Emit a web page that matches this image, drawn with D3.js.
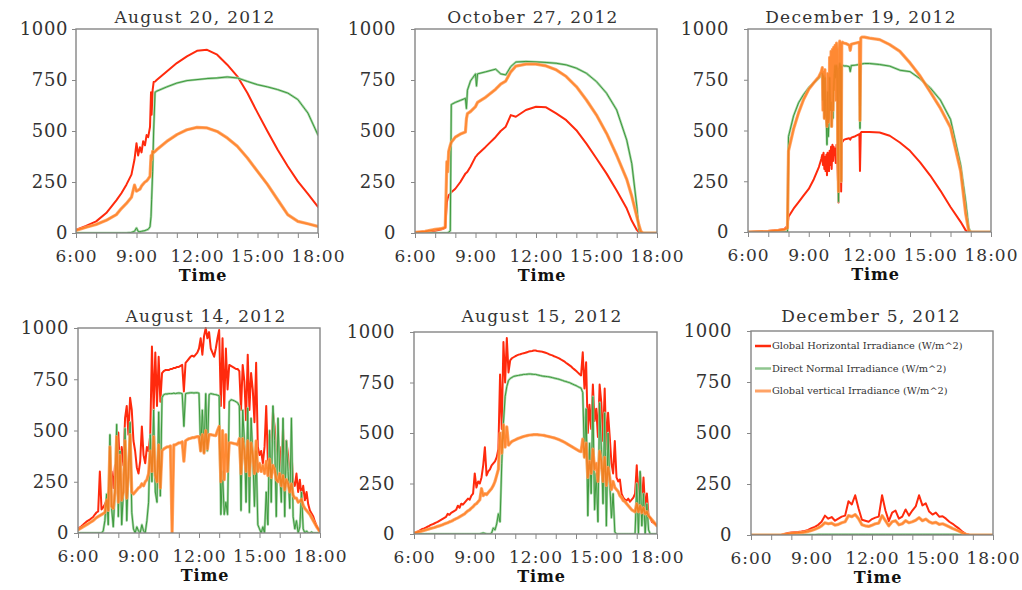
<!DOCTYPE html>
<html><head><meta charset="utf-8">
<script src="https://cdn.jsdelivr.net/npm/d3@7"></script>
<style>
html,body{margin:0;padding:0;background:#fff;}
svg{display:block;}
</style></head>
<body>
<svg id="chart" width="1022" height="590"></svg>
<script>
// ================= DATA =================
const tickHours = [6, 9, 12, 15, 18];
const tickLabels = ["6:00", "9:00", "12:00", "15:00", "18:00"];
const yTickValues = [0, 250, 500, 750, 1000];
const axisTitle = "Time";
const seriesNames = [
  "Global Horizontal Irradiance (W/m^2)",
  "Direct Normal Irradiance (W/m^2)",
  "Global vertical Irradiance (W/m^2)"
];
const panelTitles = ["August 20, 2012", "October 27, 2012", "December 19, 2012",
                     "August 14, 2012", "August 15, 2012", "December 5, 2012"];

// --- August 20, 2012 (time in hours) ---
const aug20Time = [6, 6.5, 7, 7.5, 8, 8.25, 8.5, 8.75, 8.9, 9, 9.08, 9.17, 9.25, 9.33, 9.42, 9.5, 9.58, 9.67, 9.72, 9.75,
  9.8, 9.85, 9.92, 10, 10.5, 11, 11.5, 12, 12.5, 13, 13.5, 14, 14.5, 15, 15.5, 16, 16.5, 17, 17.5, 18];
const aug20GHI = [15, 35, 57, 98, 160, 195, 237, 286, 360, 440, 380, 420, 395, 450, 430, 480, 470, 520, 690, 580,
  700, 740, 742, 750, 792, 833, 866, 893, 898, 874, 825, 768, 686, 590, 498, 408, 327, 253, 192, 128];
const aug20DNI = [0, 0, 0, 0, 0, 0, 0, 3, 8, 25, 8, 6, 8, 10, 12, 15, 18, 30, 80, 163,
  300, 500, 690, 695, 716, 735, 747, 752, 757, 760, 765, 760, 743, 727, 716, 703, 686, 654, 588, 480];
const aug20GVI = [13, 28, 42, 62, 90, 120, 145, 175, 235, 205, 210, 215, 230, 240, 250, 255, 265, 278, 380, 360,
  400, 395, 400, 408, 449, 482, 506, 518, 515, 498, 466, 425, 368, 302, 237, 163, 90, 57, 45, 32];

// --- October 27, 2012 ---
const oct27Time = [6, 6.5, 7, 7.33, 7.5, 7.58, 7.62, 7.67, 7.75, 7.8, 8, 8.25, 8.5, 8.55, 8.6, 8.75, 9, 9.05, 9.1, 9.5,
  10, 10.25, 10.5, 10.75, 11, 11.5, 12, 12.5, 13, 13.5, 14, 14.5, 15, 15.5, 16, 16.5, 16.75, 17, 17.1, 17.2, 17.3, 17.5, 18];
const oct27GHI = [3, 6, 11, 18, 25, 150, 170, 185, 192, 200, 217, 250, 291, 295, 300, 325, 373, 378, 385, 422,
  471, 500, 521, 578, 570, 603, 619, 616, 586, 553, 504, 438, 365, 291, 208, 120, 60, 15, 4, 0, 0, 0, 0];
const oct27DNI = [0, 0, 0, 0, 0, 0, 0, 5, 10, 630, 640, 650, 660, 610, 700, 745, 780, 720, 780, 790,
  803, 780, 775, 816, 838, 841, 839, 836, 832, 824, 808, 783, 742, 685, 603, 455, 340, 130, 15, 0, 0, 0, 0];
const oct27GVI = [3, 8, 18, 22, 28, 350, 300, 400, 430, 445, 470, 485, 495, 560, 585, 595, 620, 630, 640, 665,
  705, 730, 745, 790, 818, 828, 828, 819, 800, 767, 718, 652, 578, 488, 381, 263, 180, 80, 40, 8, 0, 0, 0];

// --- December 19, 2012 ---
const dec19Time = [6, 7, 7.5, 7.8, 7.95, 8, 8.25, 8.5, 8.75, 9, 9.25, 9.5, 9.62,
  9.67, 9.7, 9.73, 9.77, 9.8, 9.83, 9.87, 9.9, 9.93, 9.97, 10, 10.03, 10.07, 10.1, 10.13, 10.17, 10.2, 10.23, 10.27, 10.3,
  10.33, 10.37, 10.4, 10.43, 10.47, 10.5, 10.53, 10.57, 10.6, 10.63, 10.67, 10.7, 10.75,
  10.85, 11, 11.05, 11.1, 11.3, 11.5, 11.53, 11.57, 11.62, 11.75, 12, 12.5, 13, 13.5, 14, 14.5, 15, 15.5, 16, 16.5, 16.75, 16.9, 17, 17.5, 18];
const dec19GHI = [0, 5, 10, 15, 30, 75, 115, 147, 180, 212, 260, 320, 360,
  380, 330, 390, 310, 370, 300, 380, 280, 390, 320, 300, 400, 330, 420, 310, 430, 350, 420, 380, 410,
  340, 430, 400, 300, 145, 420, 440, 430, 200, 440, 445, 450, 455,
  458, 462, 455, 465, 472, 482, 300, 490, 493, 493, 493, 490, 474, 441, 400, 343, 278, 204, 123, 50, 8, 0, 0, 0, 0];
const dec19DNI = [0, 0, 0, 0, 0, 470, 572, 637, 678, 711, 735, 758, 772,
  780, 650, 770, 560, 760, 620, 540, 430, 690, 470, 560, 760, 600, 640, 520, 600, 560, 700, 780, 820,
  760, 820, 800, 500, 150, 800, 830, 820, 250, 815, 817, 820, 818,
  818, 815, 790, 820, 822, 825, 510, 825, 828, 830, 830, 825, 817, 797, 790, 755, 710, 650, 555, 330, 150, 20, 0, 0, 0];
const dec19GVI = [0, 3, 8, 12, 20, 400, 507, 588, 654, 703, 735, 765, 790,
  810, 600, 790, 560, 800, 620, 560, 520, 780, 540, 560, 860, 600, 890, 520, 900, 600, 910, 700, 920,
  650, 930, 900, 450, 200, 900, 940, 930, 250, 930, 935, 930, 930,
  928, 920, 895, 925, 930, 935, 550, 955, 960, 960, 955, 948, 923, 890, 833, 768, 690, 610, 515, 300, 90, 5, 0, 0, 0];

// --- August 14, 2012 (5-minute samples, 6:00 .. 18:00) ---
const aug14Time = d3.range(145).map(i => 6 + i / 12);
const aug14GHI = [
  20, 27, 33, 40, 48, 55, 60, 65, 72, 78, 90, 100,
  105, 300, 115, 125, 140, 160, 185, 230, 300, 220, 330, 260,
  490, 300, 420, 330, 560, 620, 480, 660, 600, 450, 400, 320,
  290, 350, 520, 380, 340, 420, 400, 480, 910, 600, 880, 620,
  860, 640, 780, 790, 795, 795, 795, 800, 800, 805, 805, 810,
  810, 815, 820, 690, 830, 840, 850, 860, 865, 860, 870, 880,
  900, 950, 870, 960, 1000, 950, 980, 900, 880, 860, 900, 950,
  990, 620, 950, 610, 900, 700, 820, 815, 810, 805, 800, 800,
  790, 600, 820, 740, 550, 870, 600, 780, 700, 540, 830, 420,
  380, 400, 340, 420, 620, 350, 480, 400, 590, 520, 380, 350,
  420, 300, 510, 280, 450, 380, 260, 400, 250, 230, 290, 200,
  260, 180, 230, 160, 200, 140, 110, 95, 80, 55, 35, 20,
  10];
const aug14DNI = [
  0, 0, 0, 0, 0, 0, 0, 0, 0, 0, 0, 0,
  0, 0, 0, 10, 60, 190, 40, 480, 120, 30, 200, 530,
  80, 400, 40, 200, 510, 60, 300, 540, 100, 20, 0, 30,
  10, 0, 40, 10, 0, 60, 150, 480, 250, 600, 200, 150,
  590, 180, 660, 675, 678, 678, 680, 680, 680, 682, 680, 682,
  683, 682, 680, 520, 680, 682, 683, 684, 684, 683, 684, 684,
  682, 400, 600, 390, 680, 400, 675, 680, 678, 676, 675, 672,
  670, 90, 300, 90, 150, 90, 640, 650, 648, 645, 640, 635,
  620, 110, 600, 450, 150, 610, 100, 560, 380, 130, 400, 40,
  20, 0, 30, 0, 200, 40, 500, 150, 620, 450, 80, 560,
  300, 150, 560, 80, 450, 300, 120, 560, 80, 20, 60, 0,
  30, 200, 20, 0, 10, 0, 0, 5, 0, 0, 0, 0,
  0];
const aug14GVI = [
  15, 20, 25, 30, 35, 40, 45, 50, 55, 60, 68, 75,
  80, 85, 90, 95, 100, 160, 110, 420, 130, 120, 200, 470,
  150, 380, 160, 200, 450, 170, 290, 480, 200, 190, 200, 210,
  220, 225, 240, 230, 250, 260, 290, 400, 300, 470, 280, 250,
  430, 220, 400, 410, 415, 420, 420, 425, 0, 430, 430, 435,
  440, 440, 445, 350, 450, 455, 460, 462, 465, 465, 468, 470,
  470, 400, 480, 390, 500, 410, 480, 480, 478, 476, 475, 500,
  520, 250, 500, 260, 480, 300, 440, 440, 438, 436, 435, 430,
  460, 290, 460, 400, 300, 450, 280, 440, 380, 290, 450, 300,
  340, 300, 330, 290, 350, 280, 360, 270, 330, 310, 260, 250,
  290, 230, 280, 210, 260, 240, 200, 240, 185, 170, 170, 150,
  155, 165, 135, 120, 110, 100, 90, 75, 60, 45, 30, 18,
  5];

// --- August 15, 2012 (5-minute samples) ---
const aug15Time = d3.range(145).map(i => 6 + i / 12);
const aug15GHI = [
  5, 8, 12, 15, 20, 25, 28, 32, 36, 40, 45, 48,
  52, 56, 60, 65, 70, 75, 80, 85, 100, 95, 105, 110,
  115, 120, 140, 130, 150, 145, 155, 165, 175, 170, 190, 200,
  300, 230, 260, 250, 280, 340, 430, 290, 310, 320, 340, 350,
  360, 380, 420, 790, 520, 950, 750, 970, 800, 860, 870, 875,
  880, 884, 888, 890, 893, 895, 897, 900, 903, 905, 906, 908,
  908, 906, 905, 904, 902, 900, 897, 894, 890, 887, 884, 880,
  877, 873, 869, 864, 860, 855, 848, 842, 836, 830, 822, 815,
  808, 800, 792, 785, 900, 720, 850, 500, 640, 520, 740, 560,
  620, 480, 740, 650, 460, 720, 420, 600, 480, 350, 300, 460,
  280, 260, 270, 200, 180, 170, 165, 175, 160, 170, 180, 200,
  340, 170, 300, 150, 280, 120, 200, 90, 80, 60, 55, 48,
  42];
const aug15DNI = [
  0, 0, 0, 0, 0, 0, 0, 0, 0, 0, 0, 0,
  0, 0, 0, 0, 0, 0, 0, 0, 0, 0, 0, 0,
  0, 0, 0, 0, 0, 0, 0, 0, 0, 0, 0, 0,
  0, 0, 0, 0, 3, 5, 3, 0, 0, 0, 5, 30,
  20, 50, 100, 60, 350, 550, 680, 730, 760, 770, 775, 780,
  782, 784, 785, 787, 788, 790, 790, 791, 792, 792, 791, 790,
  790, 788, 786, 784, 782, 781, 780, 779, 778, 776, 774, 772,
  770, 768, 766, 763, 760, 757, 755, 752, 750, 746, 742, 738,
  735, 730, 726, 722, 700, 380, 620, 90, 450, 200, 680, 120,
  300, 60, 650, 420, 150, 600, 40, 500, 250, 80, 200, 10,
  0, 0, 0, 0, 0, 0, 0, 0, 0, 0, 0, 0,
  250, 0, 310, 40, 200, 0, 150, 20, 0, 0, 0, 0,
  0];
const aug15GVI = [
  5, 7, 9, 11, 13, 15, 18, 20, 23, 25, 28, 30,
  32, 35, 38, 40, 43, 46, 50, 53, 56, 60, 63, 67,
  72, 76, 80, 85, 90, 95, 100, 108, 115, 120, 128, 135,
  145, 150, 160, 170, 225, 190, 200, 195, 205, 215, 225, 240,
  260, 290, 320, 500, 400, 540, 430, 530, 440, 450, 458, 462,
  466, 470, 474, 477, 480, 483, 485, 487, 489, 490, 491, 492,
  492, 492, 491, 490, 489, 488, 486, 484, 482, 480, 478, 476,
  473, 470, 467, 463, 459, 455, 450, 445, 440, 435, 430, 425,
  420, 415, 410, 408, 470, 380, 450, 280, 360, 300, 420, 320,
  350, 260, 410, 360, 260, 380, 240, 330, 280, 220, 260, 230,
  220, 210, 190, 180, 165, 160, 150, 140, 130, 120, 115, 110,
  150, 110, 140, 105, 130, 100, 110, 90, 80, 70, 60, 50,
  40];

// --- December 5, 2012 (10-minute samples) ---
const dec5Time = d3.range(73).map(i => 6 + i / 6);
const dec5GHI = [
  0, 0, 0, 0, 0, 0,
  0, 0, 0, 0, 5, 10,
  12, 14, 15, 17, 20, 25,
  33, 40, 50, 65, 95, 80,
  88, 70, 80, 90, 95, 165,
  150, 195, 130, 75, 70, 65,
  78, 85, 90, 195, 120, 68,
  110, 120, 80, 90, 125, 95,
  120, 140, 195, 145, 155, 115,
  100, 110, 90, 92, 80, 65,
  55, 42, 30, 15, 5, 0,
  0, 0, 0, 0, 0, 0,
  0];
const dec5DNI = [
  0, 0, 0, 0, 0, 0,
  0, 0, 0, 0, 0, 0,
  0, 0, 0, 0, 1, 1,
  2, 2, 3, 3, 3, 3,
  3, 3, 3, 3, 3, 3,
  3, 3, 3, 3, 3, 3,
  3, 3, 3, 3, 3, 3,
  3, 3, 3, 3, 3, 3,
  3, 3, 3, 3, 3, 3,
  3, 3, 3, 3, 3, 3,
  3, 3, 2, 1, 0, 0,
  0, 0, 0, 0, 0, 0,
  0];
const dec5GVI = [
  0, 0, 0, 0, 0, 0,
  0, 0, 0, 0, 3, 6,
  8, 9, 10, 12, 14, 18,
  22, 28, 35, 45, 60, 55,
  58, 48, 52, 60, 65, 95,
  90, 100, 80, 50, 45, 42,
  48, 55, 58, 95, 70, 45,
  65, 70, 50, 55, 70, 60,
  65, 72, 85, 70, 78, 65,
  58, 62, 52, 55, 48, 40,
  32, 25, 18, 8, 3, 0,
  0, 0, 0, 0, 0, 0,
  0];

// ================= LAYOUT / STYLE =================
const panels = [
  {title: panelTitles[0], time: aug20Time, series: [aug20GHI, aug20DNI, aug20GVI]},
  {title: panelTitles[1], time: oct27Time, series: [oct27GHI, oct27DNI, oct27GVI]},
  {title: panelTitles[2], time: dec19Time, series: [dec19GHI, dec19DNI, dec19GVI]},
  {title: panelTitles[3], time: aug14Time, series: [aug14GHI, aug14DNI, aug14GVI]},
  {title: panelTitles[4], time: aug15Time, series: [aug15GHI, aug15DNI, aug15GVI]},
  {title: panelTitles[5], time: dec5Time,  series: [dec5GHI, dec5DNI, dec5GVI], legend: true}
];
const layout = [
  {x: 76,  y: 29,  w: 242, h: 204, gap: 8,  tx: 195, ty: 23},
  {x: 415, y: 29,  w: 242, h: 204, gap: 19, tx: 533, ty: 23},
  {x: 748, y: 29,  w: 243, h: 203, gap: 19, tx: 861, ty: 23},
  {x: 78,  y: 328, w: 242, h: 205, gap: 9,  tx: 206, ty: 322},
  {x: 414, y: 332, w: 243, h: 202, gap: 19, tx: 542, ty: 322},
  {x: 751, y: 331, w: 242, h: 204, gap: 19, tx: 871, ty: 322}
];
const SERIF = "'DejaVu Serif', serif";
const styles = [
  [{stroke: "#ff2a0d", width: 2.0}],
  [{stroke: "#a3d2a3", width: 2.4}, {stroke: "#3d9a3d", width: 1.0}],
  [{stroke: "#ffa260", width: 3.2}, {stroke: "#ff7d1e", width: 1.8}]
];
const seriesOpacity = [1, 1, 0.9];

const svg = d3.select("#chart");
const defs = svg.append("defs");

panels.forEach((p, i) => {
  const L = layout[i];
  const x = d3.scaleLinear().domain([6, 18]).range([L.x, L.x + L.w]);
  const y = d3.scaleLinear().domain([0, 1000]).range([L.y + L.h, L.y]);
  const g = svg.append("g");

  defs.append("clipPath").attr("id", "clip" + i)
    .append("rect").attr("x", L.x).attr("y", L.y - 1).attr("width", L.w).attr("height", L.h + 1);

  const lines = g.append("g").attr("clip-path", `url(#clip${i})`);
  p.series.forEach((vals, s) => {
    const line = d3.line().x((d, k) => x(p.time[k])).y(d => y(d));
    const sg = lines.append("g").attr("opacity", seriesOpacity[s]);
    styles[s].forEach(st => {
      sg.append("path").datum(vals)
        .attr("d", line)
        .attr("fill", "none")
        .attr("stroke", st.stroke)
        .attr("stroke-width", st.width)
        .attr("stroke-linejoin", "round")
        .attr("stroke-linecap", "round");
    });
  });

  // frame
  g.append("rect").attr("x", L.x).attr("y", L.y).attr("width", L.w).attr("height", L.h)
    .attr("fill", "none").attr("stroke", "#858585").attr("stroke-width", 1.4);

  // x axis
  const xAxis = d3.axisBottom(x).tickValues(d3.range(6, 19)).tickSize(5)
    .tickFormat(d => { const k = tickHours.indexOf(d); return k >= 0 ? tickLabels[k] : ""; });
  const xg = g.append("g").attr("transform", `translate(0,${L.y + L.h})`).call(xAxis);
  xg.select(".domain").remove();
  xg.selectAll(".tick line").attr("stroke", "#888").attr("stroke-width", 1);
  xg.selectAll(".tick text").attr("y", 29).attr("dy", 0)
    .attr("font-family", SERIF).attr("font-size", 17).attr("fill", "#333")
    .attr("letter-spacing", 1);

  // y axis
  const yAxis = d3.axisLeft(y).tickValues(yTickValues).tickSize(4).tickPadding(L.gap - 4)
    .tickFormat(d3.format("d"));
  const yg = g.append("g").attr("transform", `translate(${L.x},0)`).call(yAxis);
  yg.select(".domain").remove();
  yg.selectAll(".tick line").attr("stroke", "#888");
  yg.selectAll(".tick text").attr("font-family", SERIF).attr("font-size", 18).attr("fill", "#333")
    .attr("letter-spacing", 0.6);

  // title
  g.append("text").attr("x", L.tx).attr("y", L.ty).attr("text-anchor", "middle")
    .attr("font-family", SERIF).attr("font-size", 17).attr("letter-spacing", 1.3)
    .attr("fill", "#333").text(p.title);

  // axis title
  g.append("text").attr("x", L.x + L.w / 2 + 6).attr("y", L.y + L.h + 48).attr("text-anchor", "middle")
    .attr("font-family", SERIF).attr("font-size", 16).attr("font-weight", "bold")
    .attr("letter-spacing", 0.8).attr("fill", "#111").text(axisTitle);

  // legend
  if (p.legend) {
    const legendStyles = [
      {stroke: "#ff2a0d", width: 2.5},
      {stroke: "#8fc68f", width: 2.5},
      {stroke: "#ffa366", width: 3}
    ];
    seriesNames.forEach((name, s) => {
      const ly = L.y + 15 + s * 22.5;
      g.append("line").attr("x1", L.x + 4).attr("x2", L.x + 20).attr("y1", ly).attr("y2", ly)
        .attr("stroke", legendStyles[s].stroke).attr("stroke-width", legendStyles[s].width);
      g.append("text").attr("x", L.x + 21).attr("y", ly).attr("dy", "0.35em")
        .attr("font-family", SERIF).attr("font-size", 9.8).attr("fill", "#333").text(name);
    });
  }
});
</script>
</body></html>
